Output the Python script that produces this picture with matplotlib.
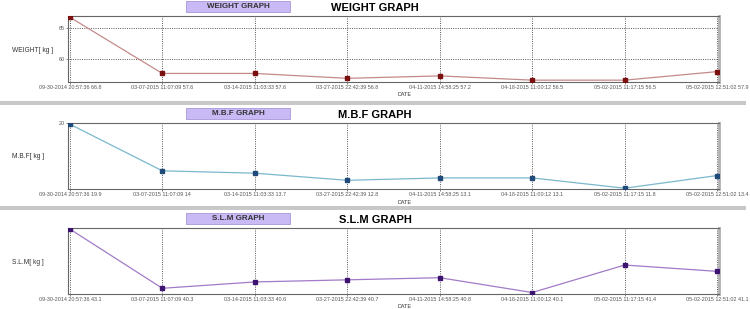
import matplotlib
matplotlib.use('Agg')
import matplotlib.pyplot as plt
from matplotlib.patches import Rectangle

plt.rcParams['font.family'] = ['Liberation Sans', 'DejaVu Sans']

dates = ['09-30-2014 20:57:36', '03-07-2015 11:07:09', '03-14-2015 11:03:33',
         '03-27-2015 22:42:39', '04-11-2015 14:58:25', '04-18-2015 11:00:12',
         '05-02-2015 11:17:15', '05-02-2015 12:51:02']
weight = [66.8, 57.6, 57.6, 56.8, 57.2, 56.5, 56.5, 57.9]
mbf = [19.9, 14, 13.7, 12.8, 13.1, 13.1, 11.8, 13.4]
slm = [43.1, 40.3, 40.6, 40.7, 40.8, 40.1, 41.4, 41.1]

W, H = 750, 309
fig = plt.figure(figsize=(W / 100, H / 100), dpi=100)
fig.patch.set_facecolor('white')


def px_rect(x0, y0, x1, y1):
    return [x0 / W, 1 - y1 / H, (x1 - x0) / W, (y1 - y0) / H]


panels = [
    # name, ylabel, values, line color, marker color, yticks, ylim, top px
    ('WEIGHT GRAPH', 'WEIGHT[ kg ]', weight, '#c48a8a', '#7a1010', [60, 65], (56.2, 67.0), 0),
    ('M.B.F GRAPH', 'M.B.F[ kg ]', mbf, '#7ab8cc', '#1f4a7a', [20], (11.7, 20.05), 107),
    ('S.L.M GRAPH', 'S.L.M[ kg ]', slm, '#a27ac8', '#3c1470', [], (40.03, 43.15), 212),
]

for name, ylab, vals, lc, mc, yt, yl, top in panels:
    ax = fig.add_axes(px_rect(68, top + 16, 719, top + 82))
    x = list(range(len(vals)))
    ax.plot(x, vals, color=lc, lw=0.9, zorder=3)
    ax.plot(x, vals, ls='none', marker='s', ms=3.2, color=mc, zorder=4)
    ax.set_xlim(-0.02, 7.02)
    ax.set_ylim(*yl)
    ax.set_xticks(x)
    ax.set_xticklabels([f'{d} {v:g}' for d, v in zip(dates, vals)], fontsize=3.9, color='#333333')
    ax.set_yticks(yt)
    ax.set_yticklabels([str(t) for t in yt], fontsize=3.9, color='#333333')
    ax.tick_params(length=1.5, width=0.5, pad=1, colors='#555555')
    for xi in x:
        ax.axvline(xi, color='#444444', lw=0.6, ls=(0, (1.2, 1.5)), zorder=1)
    for t in yt:
        ax.axhline(t, color='#444444', lw=0.6, ls=(0, (1.2, 1.5)), zorder=1)
    for s in ['top', 'left', 'bottom']:
        ax.spines[s].set_color('#666666')
        ax.spines[s].set_linewidth(0.8)
    ax.spines['right'].set_color('#b0b0b0')
    ax.spines['right'].set_linewidth(2)
    fig.text(12 / W, 1 - (top + 50) / H, ylab, fontsize=4.8, color='#333333', va='center')
    fig.text(398 / W, 1 - (top + 95) / H, 'DATE', fontsize=3.9, color='#333333', va='center')
    # purple label box
    fig.patches.append(Rectangle((186 / W, 1 - (top + 12) / H), 104 / W, 11 / H,
                                 transform=fig.transFigure, facecolor='#c9b9f5',
                                 edgecolor='#a898d8', lw=0.6))
    fig.text(238 / W, 1 - (top + 6.5) / H, name, fontsize=5.8, fontweight='bold',
             color='#333333', ha='center', va='center')
    fig.text(375 / W, 1 - (top + 8) / H, name, fontsize=8, fontweight='bold',
             color='black', ha='center', va='center')

# gray separator bars
for y0 in [101, 206]:
    fig.patches.append(Rectangle((0, 1 - (y0 + 4) / H), 746 / W, 4 / H,
                                 transform=fig.transFigure, facecolor='#c8c8c8',
                                 edgecolor='none'))

fig.savefig('out.png', dpi=100)
